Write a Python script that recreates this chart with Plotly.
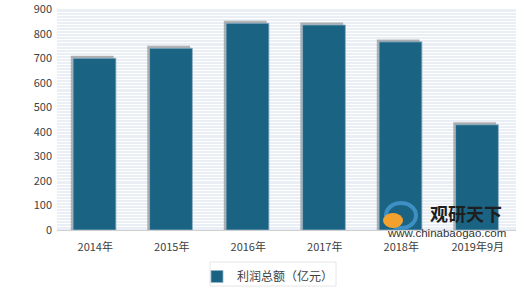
import plotly.graph_objects as go

categories = ["2014年", "2015年", "2016年", "2017年", "2018年", "2019年9月"]
profit = [700, 741, 843, 836, 767, 429]
series_name = "利润总额（亿元）"
y_ticks = [0, 100, 200, 300, 400, 500, 600, 700, 800, 900]
y_labels = [str(v) for v in y_ticks]

shadow = [v + 10 for v in profit]

W, H, L, R, T, B = 520, 288, 57, 4, 9, 58
PW, PH = W - L - R, H - T - B


def px(x):
    return (x - L) / PW


def py(y):
    return (H - B - y) / PH


fig = go.Figure()
fig.add_trace(go.Bar(
    x=categories, y=shadow, width=0.56, offset=-0.32,
    marker=dict(color="rgba(120,120,120,0.55)", line=dict(width=0)),
    showlegend=False, hoverinfo="skip",
))
fig.add_trace(go.Bar(
    x=categories, y=profit, width=0.56, offset=-0.29, name=series_name,
    marker=dict(color="#1b6383", line=dict(color="#8fb3c6", width=0.8)),
))

fig.update_layout(
    width=W, height=H,
    margin=dict(l=L, r=R, t=T, b=B, autoexpand=False),
    paper_bgcolor="white",
    plot_bgcolor="#e9eff4",
    barmode="overlay",
    font=dict(family="Noto Sans CJK SC, sans-serif", size=11, color="#404040"),
    showlegend=True,
    legend=dict(
        orientation="h", xref="container", yref="container",
        x=197 / W, xanchor="left",
        y=(H - 262) / H, yanchor="top",
        borderwidth=0, bgcolor="rgba(0,0,0,0)",
        font=dict(size=12, color="#404040"),
    ),
    xaxis=dict(
        showgrid=False, ticks="", showline=True, linecolor="#d0d0d0",
        tickfont=dict(size=11, color="#404040"), ticklabelstandoff=7,
        automargin=False,
    ),
    yaxis=dict(
        range=[0, 901], tickmode="array", tickvals=y_ticks, ticktext=y_labels,
        showgrid=True, gridcolor="white",
        gridwidth=1, zeroline=False, ticks="", showline=False,
        minor=dict(dtick=12.5, showgrid=True, gridcolor="white", gridwidth=1),
        tickfont=dict(size=11, color="#404040"), ticklabelstandoff=4,
        automargin=False, ticklabeloverflow="allow",
    ),
)

# legend frame
fig.add_shape(
    type="rect", xref="paper", yref="paper",
    x0=px(210), x1=px(336), y0=py(262), y1=py(286),
    line=dict(color="#e6e6e6", width=1), layer="below",
)

# watermark logo (approximate)
fig.add_shape(
    type="circle", xref="paper", yref="paper",
    x0=px(386), x1=px(416), y0=py(228), y1=py(203),
    line=dict(color="#3d8fc4", width=4), fillcolor="rgba(0,0,0,0)",
)
fig.add_shape(
    type="circle", xref="paper", yref="paper",
    x0=px(383), x1=px(403), y0=py(228), y1=py(213),
    line=dict(color="#f0a030", width=0), fillcolor="#f3a12e",
)
fig.add_annotation(
    x=px(466), y=py(213), xref="paper", yref="paper", xanchor="center",
    yanchor="middle", text="<b>观研天下</b>", showarrow=False,
    font=dict(size=18, color="#1e1e1e", family="Noto Sans CJK SC"),
)
fig.add_annotation(
    x=px(446), y=py(233), xref="paper", yref="paper", xanchor="center",
    yanchor="middle", text="www.chinabaogao.com", showarrow=False,
    font=dict(size=11.5, color="#333333", family="Liberation Sans"),
)

fig.write_html("out.html")
